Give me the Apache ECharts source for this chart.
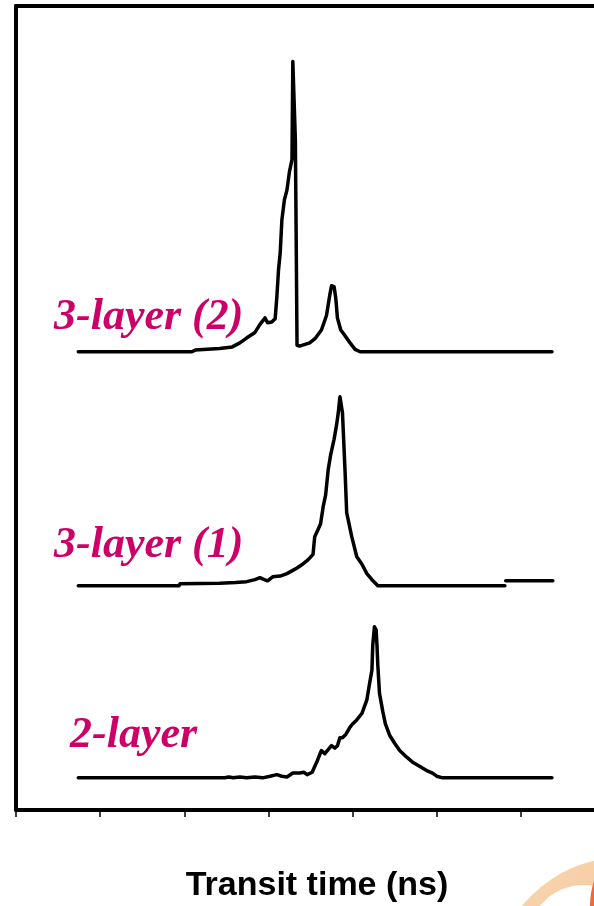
<!DOCTYPE html>
<html>
<head>
<meta charset="utf-8">
<script src="https://cdn.jsdelivr.net/npm/echarts@6/dist/echarts.min.js"></script>
<style>
  html, body { margin: 0; padding: 0; background: #fff; }
  #chartMain { width: 594px; height: 906px; }
</style>
</head>
<body>
<div id="chartMain"></div>
<script>
    // transit time (arbitrary ns units, axis ticks have no labels)
    const time1 = [0.74, 2.48, 2.53, 2.58, 2.66, 2.74, 2.84, 2.93, 3.02, 3.10, 3.16, 3.22, 3.29, 3.37, 3.42, 3.46, 3.52,
                   3.55, 3.58, 3.61, 3.63, 3.67, 3.71, 3.75, 3.79, 3.82, 3.85, 3.88, 3.92, 3.97, 4.00, 4.05, 4.11,
                   4.17, 4.20, 4.23, 4.24, 4.26, 4.28, 4.29, 4.30, 4.32, 4.36, 4.39, 4.44, 4.50, 4.56, 4.64, 4.72,
                   4.80, 4.88, 4.95, 5.00, 5.07, 6.37];
    const signal1 = [0, 0, 0.1, 0, 0.1, 0, 0.1, 0, 0.2, 0.4, 0.2, 0.1, 0.6, 0.6, 0.7, 0.4, 0.7,
                     1.4, 2.1, 2.9, 3.4, 3.0, 3.5, 4.0, 3.7, 4.0, 5.0, 5.0, 5.4, 6.3, 6.7, 7.2, 8.0,
                     9.7, 11.6, 13.4, 16.5, 18.8, 18.4, 16.5, 14.0, 10.5, 8.2, 6.7, 5.3, 4.3, 3.4, 2.6, 1.9,
                     1.4, 0.9, 0.6, 0.2, 0, 0];

    const time2 = [0.74, 1.94, 1.95, 2.42, 2.61, 2.74, 2.84, 2.90, 2.95, 2.99, 3.05, 3.14, 3.22, 3.29, 3.34, 3.41,
                   3.47, 3.53, 3.55, 3.59, 3.62, 3.65, 3.68, 3.71, 3.74, 3.78, 3.81, 3.83, 3.85, 3.87, 3.88,
                   3.91, 3.93, 3.99, 4.05, 4.11, 4.17, 4.23, 4.30, 5.81, 5.81, 5.82, 6.38];
    const signal2 = [0, 0, 0.25, 0.3, 0.4, 0.5, 0.75, 1.0, 0.75, 0.6, 1.1, 1.2, 1.5, 1.9, 2.2, 2.7,
                     3.2, 3.9, 6.1, 7.0, 7.7, 9.8, 11.3, 14.4, 16.3, 18.2, 20.0, 21.5, 23.5, 23.5, 21.5,
                     14.4, 9.1, 6.1, 3.6, 2.7, 1.5, 0.75, 0, 0, null, 0.6, 0.6];

    const time3 = [0.74, 2.09, 2.13, 2.42, 2.57, 2.66, 2.74, 2.84, 2.90, 2.96, 2.99, 3.04, 3.08, 3.10, 3.12, 3.14,
                   3.16, 3.19, 3.22, 3.25, 3.28, 3.29, 3.31, 3.32, 3.33, 3.34, 3.37, 3.49, 3.56, 3.63, 3.69,
                   3.73, 3.75, 3.78, 3.80, 3.82, 3.86, 3.91, 3.97, 4.03, 4.09, 6.37];
    const signal3 = [0, 0, 0.2, 0.4, 0.6, 1.1, 1.7, 2.4, 3.4, 4.2, 3.6, 3.7, 4.1, 6.8, 10.2, 12.3,
                     16.4, 18.9, 20.1, 22.4, 23.9, 36.1, 36.1, 26.4, 13.9, 0.8, 0.7, 1.1, 1.7, 2.7, 4.5,
                     7.1, 8.2, 8.1, 6.7, 4.2, 2.7, 2.0, 1.1, 0.3, 0, 0];

    // vertical offsets that stack the traces
    const names = ['2-layer', '3-layer (1)', '3-layer (2)'];
    const offsets = [4.0, 27.9, 57.0];
    const labelColor = '#CC0066';

    function buildData(times, values, offset) {
        return times.map((t, i) => values[i] === null ? [t, '-'] : [t, values[i] + offset]);
    }

    const traces = [
        buildData(time1, signal1, offsets[0]),
        buildData(time2, signal2, offsets[1]),
        buildData(time3, signal3, offsets[2])
    ];

    const myChart = echarts.init(document.getElementById('chartMain'), null, { renderer: 'canvas' });

    const labelFont = 'italic bold 44px "Liberation Serif", "Times New Roman", serif';
    const frameLine = { show: true, onZero: false, lineStyle: { color: '#000', width: 4 } };
    const hidden = { show: false };

    myChart.setOption({
        animation: false,
        backgroundColor: '#fff',
        grid: {
            left: 16, top: 6, width: 589, height: 804,
            outerBoundsMode: 'none', containLabel: false
        },
        xAxis: [{
            type: 'value', min: 0, max: 7, interval: 1, position: 'bottom',
            axisLine: frameLine,
            axisTick: { show: true, inside: false, length: 7, lineStyle: { color: '#000', width: 1.5 } },
            axisLabel: hidden,
            splitLine: hidden
        }, {
            type: 'value', min: 0, max: 7, position: 'top',
            axisLine: frameLine, axisTick: hidden, axisLabel: hidden, splitLine: hidden
        }],
        yAxis: {
            type: 'value', min: 0, max: 100,
            axisLine: frameLine,
            axisTick: hidden,
            axisLabel: hidden,
            splitLine: hidden
        },
        series: traces.map((d, i) => ({
            name: names[i],
            type: 'line',
            data: d,
            symbol: 'none',
            connectNulls: false,
            lineStyle: { color: '#000', width: 3.5, join: 'round', cap: 'round' }
        })),
        graphic: [
            // decorative swoosh in the corner of the slide
            { type: 'circle', shape: { cx: 625, cy: 990, r: 133 }, z: -1,
              style: { fill: new echarts.graphic.LinearGradient(0, 0, 1, 1, [
                  { offset: 0, color: '#F8D8B4' }, { offset: 0.6, color: '#F3C08E' }, { offset: 1, color: '#EE9060' }]) } },
            { type: 'circle', shape: { cx: 584, cy: 942, r: 57 }, z: -1, style: { fill: '#fff' } },
            { type: 'circle', shape: { cx: 662, cy: 905, r: 72 }, z: -1,
              style: { fill: new echarts.graphic.LinearGradient(0, 0, 1, 1, [
                  { offset: 0, color: '#E9603C' }, { offset: 1, color: '#F08A50' }]) } },
            { type: 'text', x: 54, y: 318, z: 10,
              style: { text: names[2], font: labelFont, fill: labelColor, textVerticalAlign: 'middle' } },
            { type: 'text', x: 54, y: 546, z: 10,
              style: { text: names[1], font: labelFont, fill: labelColor, textVerticalAlign: 'middle' } },
            { type: 'text', x: 70, y: 736, z: 10,
              style: { text: names[0], font: labelFont, fill: labelColor, textVerticalAlign: 'middle' } },
            { type: 'text', x: 317, y: 886, z: 10,
              style: { text: 'Transit time (ns)', font: 'bold 34px "Liberation Sans", Arial, sans-serif',
                       fill: '#000', textAlign: 'center', textVerticalAlign: 'middle' } }
        ]
    });
</script>
</body>
</html>
